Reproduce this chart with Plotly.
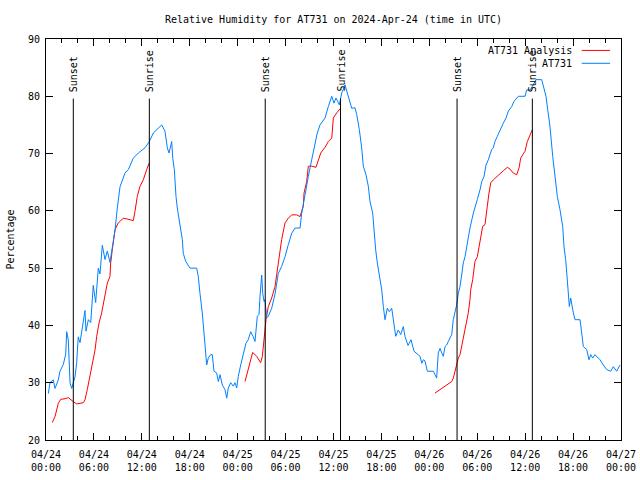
import pandas as pd
import plotly.graph_objects as go

base = pd.Timestamp("2024-04-24 00:00")

# Observed RH (AT731): hours since 04/24 00:00 UTC, percentage
obs_hours = [0.29, 0.50, 0.91, 1.13, 1.54, 1.75, 2.17, 2.47, 2.59, 2.79, 3.01, 3.22, 3.42, 3.63, 3.84,
             4.04, 4.26, 4.60, 4.88, 5.01, 5.30, 5.60, 5.92, 6.22, 6.55, 6.76, 7.05, 7.39, 7.68, 8.01,
             8.30, 8.64, 8.93, 9.27, 9.89, 10.31, 10.93, 11.56, 12.40, 12.94, 13.44, 14.06, 14.49, 14.90,
             15.19, 15.40, 15.61, 15.74, 15.87, 16.07, 16.28, 16.44, 17.07, 17.19, 17.49, 18.03, 18.87,
             19.07, 19.28, 19.57, 19.91, 20.12, 20.32, 20.62, 20.82, 21.04, 21.37, 21.58, 21.79, 22.08,
             22.41, 22.63, 22.83, 23.13, 23.45, 23.67, 23.88, 24.08, 24.38, 24.71, 25.04, 25.33, 25.63,
             25.96, 26.17, 26.46, 26.67, 26.80, 27.01, 27.14, 27.30, 27.42, 27.64, 27.84, 28.26, 28.68,
             29.09, 29.51, 29.93, 30.34, 30.77, 31.18, 31.81, 32.02, 32.43, 32.85, 33.27, 33.68, 33.97,
             34.31, 34.94, 35.35, 35.78, 36.06, 36.31, 36.73, 37.03, 37.44, 37.73, 38.07, 38.28, 38.69,
             38.91, 39.23, 39.53, 39.73, 40.07, 40.36, 40.57, 40.91, 41.07, 41.28, 41.49, 41.70, 42.04,
             42.24, 42.45, 42.74, 42.99, 43.29, 43.49, 43.79, 44.11, 44.42, 44.74, 44.95, 45.33, 45.71,
             46.08, 46.46, 46.84, 47.05, 47.25, 47.46, 47.75, 48.50, 48.92, 49.12, 49.34, 49.55, 49.75,
             49.96, 50.18, 50.38, 50.59, 50.80, 51.00, 51.21, 51.42, 51.63, 51.84, 52.05, 52.25, 52.47,
             52.68, 52.88, 53.09, 53.51, 53.72, 54.01, 54.35, 54.56, 54.85, 55.10, 55.38, 55.81, 56.01,
             56.22, 56.51, 56.85, 57.26, 57.60, 57.89, 58.31, 58.60, 59.14, 59.98, 60.19, 60.61, 61.02,
             61.36, 62.07, 62.27, 62.61, 62.82, 63.11, 63.45, 63.74, 64.03, 64.36, 64.70, 64.86, 65.07,
             65.24, 65.40, 65.53, 65.70, 65.83, 66.03, 66.24, 66.87, 67.08, 67.28, 67.71, 67.99, 68.21,
             68.46, 68.74, 68.96, 69.37, 69.78, 70.21, 70.71, 71.04, 71.46, 71.88]
obs_rh = [28.1, 30.0, 30.5, 29.0, 30.5, 32.0, 33.2, 35.0, 38.9, 37.5, 30.0, 29.0, 30.0, 31.0, 33.5,
          38.0, 37.0, 40.0, 42.6, 39.0, 41.0, 40.5, 47.0, 44.0, 50.0, 49.0, 54.0, 51.5, 53.0, 51.0,
          53.7, 56.6, 60.5, 64.2, 66.6, 67.2, 69.2, 70.1, 71.0, 72.1, 73.6, 74.5, 75.0, 73.9,
          71.0, 70.1, 71.8, 72.1, 69.2, 67.2, 62.5, 60.5, 55.0, 52.6, 51.2, 50.0, 50.0,
          48.5, 45.6, 42.2, 36.6, 33.1, 34.3, 34.9, 34.9, 32.0, 31.7, 30.2, 31.4, 29.6,
          28.8, 27.3, 29.1, 30.0, 29.4, 30.0, 29.1, 31.1, 33.1, 35.2, 36.9, 37.5, 38.9,
          38.0, 37.2, 41.6, 41.9, 45.1, 48.8, 45.6, 44.2, 44.5, 41.3, 41.6, 43.0, 45.5,
          49.1, 50.3, 52.0, 54.1, 56.1, 57.0, 57.0, 59.6, 63.1, 66.0, 68.9, 71.5, 73.6,
          75.0, 76.2, 78.2, 80.0, 78.8, 79.7, 78.5, 80.6, 82.0, 80.6, 78.8, 77.9, 78.0,
          76.8, 74.2, 71.0, 67.8, 66.3, 64.3, 61.6, 59.6, 56.7, 53.2, 50.9, 49.1, 46.2,
          43.3, 41.0, 43.0, 42.4, 43.0, 40.7, 38.1, 39.2, 38.4, 39.8, 38.1, 36.5, 37.5,
          35.5, 35.0, 34.6, 33.4, 34.0, 33.8, 32.0, 32.0, 30.8, 35.2, 36.0, 35.2, 34.6,
          36.3, 36.6, 37.2, 37.8, 38.4, 41.0, 42.2, 43.6, 45.6, 46.8, 48.8, 50.9, 52.0,
          53.8, 55.3, 57.0, 59.6, 60.8, 62.0, 63.7, 65.1, 66.0, 68.0, 68.9, 70.7, 71.0,
          72.1, 73.0, 74.2, 75.3, 76.2, 77.4, 78.2, 79.1, 80.0, 80.0, 81.1, 81.1, 82.0,
          82.9, 82.9, 81.7, 80.0, 77.7, 74.7, 69.5, 65.4, 62.5, 60.2, 57.3, 53.8, 51.5,
          48.6, 46.2, 43.3, 44.8, 43.6, 42.2, 41.0, 41.0, 38.7, 36.3, 35.8, 34.0, 34.9,
          34.3, 34.9, 34.6, 34.0, 33.1, 32.3, 32.0, 32.8, 32.0, 33.1]

# Analysis RH (three separate segments, None = gap)
ana_hours = [0.79, 1.13, 1.54, 1.84, 2.38, 2.79, 3.42, 3.84, 4.67, 4.88, 5.17, 5.51, 5.85, 6.14, 6.35,
             6.64, 6.97, 7.18, 7.48, 7.68, 8.01, 8.10, 8.30, 8.64, 9.05, 9.68, 10.11, 10.93, 11.14,
             11.43, 11.77, 12.18, 12.61, 12.90,
             None,
             24.92, 25.21, 25.54, 25.88, 26.38, 26.88, 27.09, 27.30, 27.55, 27.84, 28.26, 28.68, 28.96,
             29.21, 29.51, 29.93, 30.34, 30.77, 31.39, 31.81, 32.22, 32.31, 32.64, 32.85, 33.27, 33.81,
             34.10, 34.40, 34.94, 35.35, 35.78, 35.85, 35.98, 36.40, 36.81,
             None,
             48.71, 49.34, 49.75, 50.18, 50.80, 51.00, 51.21, 51.42, 51.63, 51.84, 52.05, 52.25, 52.55,
             52.68, 52.88, 53.09, 53.18, 53.43, 53.59, 53.72, 54.01, 54.26, 54.43, 54.68, 54.97, 55.10,
             55.26, 55.47, 55.69, 56.01, 56.44, 56.85, 57.26, 57.77, 58.10, 58.51, 58.94, 59.23, 59.44,
             59.69, 59.98, 60.27, 60.61, 60.91]
ana_rh = [23.05, 24.1, 26.4, 27.1, 27.2, 27.4, 26.7, 26.3, 26.5, 27.0, 28.8, 31.1, 33.4, 35.7, 38.1,
          40.4, 42.2, 43.9, 45.6, 47.4, 48.55, 50.9, 53.2, 56.7, 57.9, 58.7, 58.6, 58.3, 59.9,
          62.5, 64.3, 65.4, 67.2, 68.3,
          None,
          30.2, 31.7, 33.4, 35.3, 34.6, 33.5, 34.6, 38.1, 41.0, 43.3, 44.8, 46.8, 49.7,
          52.6, 55.0, 57.9, 58.7, 59.3, 59.3, 59.0, 60.8, 63.1, 65.1, 67.8, 67.8, 67.6,
          68.9, 70.1, 71.1, 72.1, 72.7, 74.5, 76.2, 77.1, 77.8,
          None,
          28.2, 28.8, 29.3, 29.6, 30.2, 30.8, 32.0, 33.4, 34.3, 34.9, 36.3, 38.1, 40.1,
          40.7, 42.2, 44.5, 46.2, 48.0, 49.7, 51.2, 52.0, 53.8, 55.3, 57.3, 57.6, 59.6,
          60.8, 63.1, 64.9, 65.4, 66.0, 66.5, 67.0, 67.6, 67.3, 66.6, 66.3, 67.5, 69.2,
          69.8, 70.4, 72.1, 73.3, 74.2]

sun_hours = [3.42, 12.94, 27.45, 36.88, 51.47, 60.90]
sun_labels = ["Sunset", "Sunrise", "Sunset", "Sunrise", "Sunset", "Sunrise"]

tick_hours = list(range(0, 73, 6))
tick_text = ["04/24<br>00:00", "04/24<br>06:00", "04/24<br>12:00", "04/24<br>18:00",
             "04/25<br>00:00", "04/25<br>06:00", "04/25<br>12:00", "04/25<br>18:00",
             "04/26<br>00:00", "04/26<br>06:00", "04/26<br>12:00", "04/26<br>18:00",
             "04/27<br>00:00"]
y_ticks = [20, 30, 40, 50, 60, 70, 80, 90]


def to_time(h):
    return None if h is None else base + pd.Timedelta(hours=h)


FONT = "DejaVu Sans Mono"
RED = "#ff0000"
BLUE = "#0080ff"

fig = go.Figure()
fig.add_trace(go.Scatter(x=[to_time(h) for h in ana_hours], y=ana_rh, mode="lines",
                         line=dict(color=RED, width=1), connectgaps=False,
                         name="AT731 Analysis", showlegend=False))
fig.add_trace(go.Scatter(x=[to_time(h) for h in obs_hours], y=obs_rh, mode="lines",
                         line=dict(color=BLUE, width=1), name="AT731", showlegend=False))

shapes = []
annotations = []
for h, lab in zip(sun_hours, sun_labels):
    t = to_time(h)
    shapes.append(dict(type="line", xref="x", yref="y", x0=t, x1=t, y0=20, y1=79.6,
                       line=dict(color="black", width=1)))
    annotations.append(dict(x=t, y=80.4, xref="x", yref="y", text=lab, showarrow=False,
                            textangle=-90, xanchor="center", yanchor="bottom", xshift=1,
                            font=dict(family=FONT, size=10, color="black")))

# gnuplot-style key (text left, sample right)
for name, col, yp in [("AT731 Analysis", RED, 0.9715), ("AT731", BLUE, 0.9394)]:
    annotations.append(dict(x=0.919, y=yp, xref="paper", yref="paper", text=name,
                            showarrow=False, xanchor="right", yanchor="middle",
                            font=dict(family=FONT, size=10, color="black")))
    shapes.append(dict(type="line", xref="paper", yref="paper", x0=0.9317, x1=0.981,
                       y0=yp, y1=yp, line=dict(color=col, width=1)))

fig.update_layout(
    width=640, height=480,
    margin=dict(l=46, r=19, t=39, b=40, autoexpand=False),
    paper_bgcolor="white", plot_bgcolor="white",
    font=dict(family=FONT, size=10, color="black"),
    title=dict(text="Relative Humidity for AT731 on 2024-Apr-24 (time in UTC)",
               x=0.5, xref="paper", y=1 - 19 / 480, yref="container", yanchor="middle",
               font=dict(family=FONT, size=10, color="black")),
    shapes=shapes, annotations=annotations, showlegend=False,
)
fig.update_xaxes(
    type="date", range=[to_time(0), to_time(72)], automargin=False,
    tickvals=[to_time(h) for h in tick_hours], ticktext=tick_text,
    ticks="inside", ticklen=7, tickcolor="black", tickwidth=1, ticklabelstandoff=5,
    minor=dict(dtick=2 * 3600 * 1000, ticks="inside", ticklen=4, tickcolor="black", tickwidth=1),
    showline=True, linecolor="black", linewidth=1, mirror="ticks",
    showgrid=False, zeroline=False,
)
fig.update_yaxes(
    range=[20, 90], tickvals=y_ticks, automargin=False,
    ticks="inside", ticklen=7, tickcolor="black", tickwidth=1, ticklabelstandoff=3,
    showline=True, linecolor="black", linewidth=1, mirror="ticks",
    showgrid=False, zeroline=False,
    title=dict(text="Percentage", standoff=11, font=dict(family=FONT, size=10, color="black")),
)

fig.write_html("out.html")
